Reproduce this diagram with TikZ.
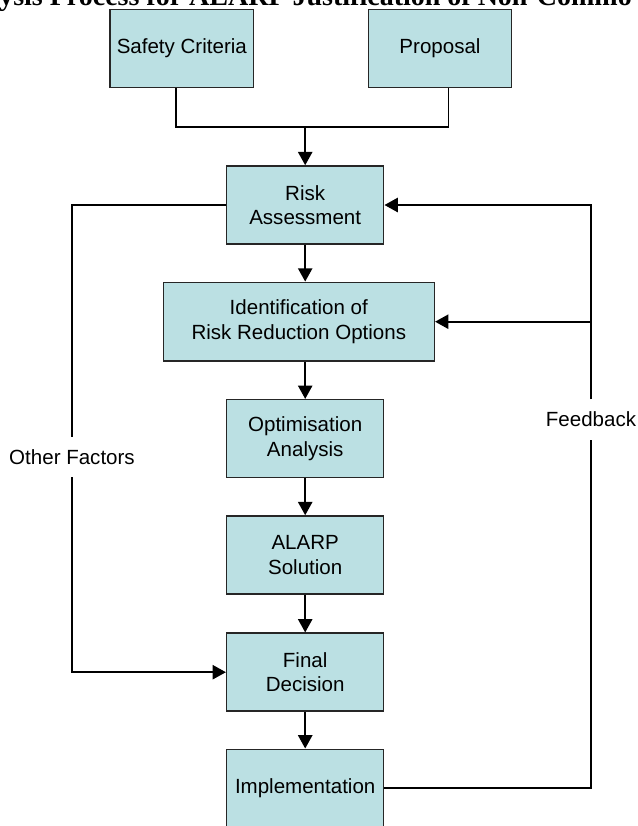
\documentclass[tikz,border=0pt]{standalone}
\usepackage{fontspec}
\setmainfont{Liberation Sans}
\newfontfamily\titlefont{Liberation Serif}
\usetikzlibrary{arrows.meta,positioning}
\definecolor{boxfill}{RGB}{187,224,227}
\tikzset{%
    alarp_block/.style={%
        rectangle, draw=black!85, line width=1.1pt, fill=boxfill, minimum width=117.75pt, minimum height=58.5pt, text centered, align=center, inner sep=0pt
    },
    flow/.style={%
        line width=1.8pt, -{Triangle[length=10pt,width=10.5pt]}
    },
    link/.style={%
        line width=1.3pt
    },
    side_label/.style={%
        inner xsep=0pt, minimum height=30pt
    },
}

\begin{document}
\begin{tikzpicture}[x=0.75pt, y=-0.75pt, font=\fontsize{15.4}{18.5}\selectfont]
    \useasboundingbox (0,0) rectangle (637,826);
    \clip (0,0) rectangle (637,826);
    \node[anchor=base west, inner sep=0pt, font=\titlefont\bfseries\fontsize{21}{25}\selectfont] (title) at (-1,5.5) {ysis Process for ALARP Justification of Non-Commo};

    \node[alarp_block, minimum width=107.6pt] (safety) at (181.8,48.3) {Safety Criteria};
    \node[alarp_block, minimum width=107pt] (proposal) at (440,48.3) {Proposal};
    \node[alarp_block] (risk) at (305.2,205) {Risk\\Assessment};
    \node[alarp_block, minimum width=203.25pt, minimum height=59pt] (ident) at (298.8,321.7) {Identification of\\Risk Reduction Options};
    \node[alarp_block] (optim) at (305.2,438.7) {Optimisation\\Analysis};
    \node[alarp_block] (alarp) at (305.2,555) {ALARP\\Solution};
    \node[alarp_block] (final) at (305.2,672.2) {Final\\Decision};
    \node[alarp_block] (impl) at (305.2,788.3) {Implementation};

    \node[side_label] (other) at (72,457) {Other Factors};
    \node[side_label] (feedback) at (591,419.3) {Feedback};
    \coordinate (merge) at (305.2,126.7);

    % inputs
    \draw[link] ([xshift=-4.6pt]safety.south) |- (merge) -| ([xshift=6.4pt]proposal.south);
    \draw[flow] (merge) -- (risk);

    % main chain
    \draw[flow] (risk) -- (risk.south |- ident.north);
    \draw[flow] (ident.south -| optim.north) -- (optim);
    \draw[flow] (optim) -- (alarp);
    \draw[flow] (alarp) -- (final);
    \draw[flow] (final) -- (impl);

    % side loops
    \draw[link] (risk.west) -| (other.north);
    \draw[flow] (other.south) |- (final.west);
    \draw[link] (impl.east) -| (feedback.south);
    \draw[flow] (feedback.north) |- (ident.east);
    \draw[flow] (feedback.north) |- (risk.east);
\end{tikzpicture}
\end{document}
